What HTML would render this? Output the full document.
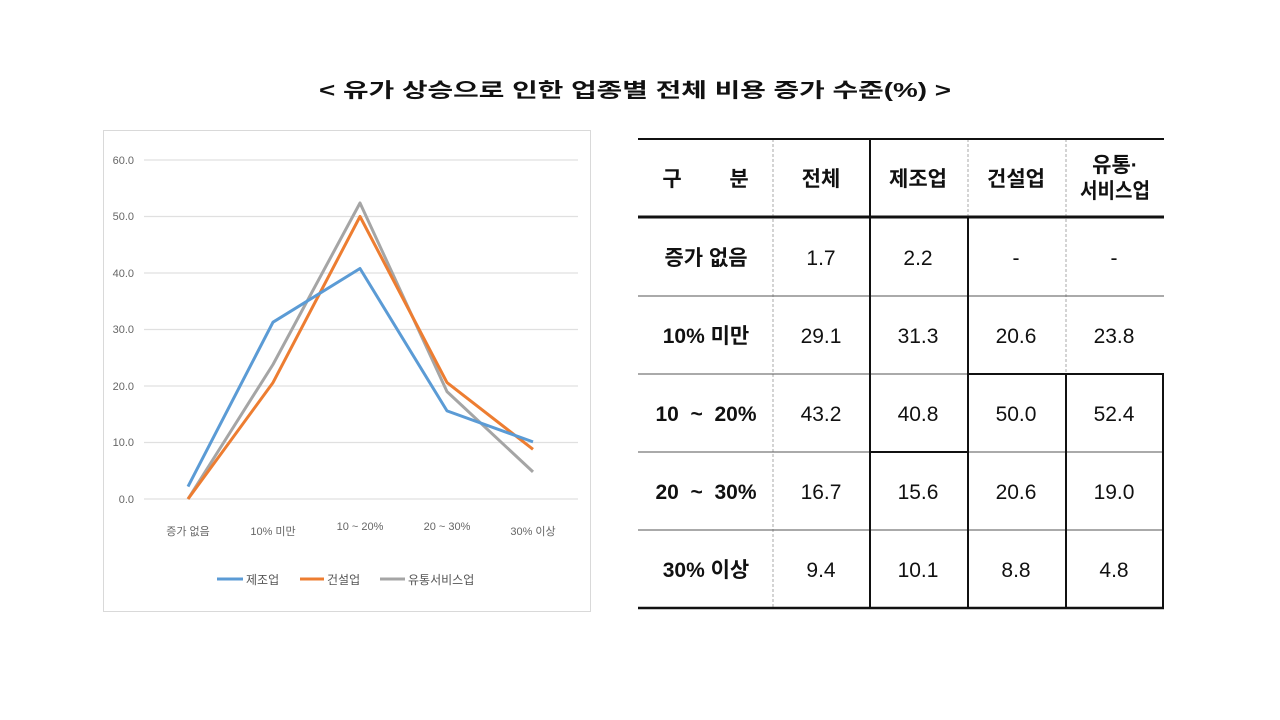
<!DOCTYPE html>
<html><head><meta charset="utf-8"><style>
html,body{margin:0;padding:0;background:#fff;width:1280px;height:720px;overflow:hidden}
svg{display:block}
text{font-family:"Liberation Sans","Noto Sans CJK KR",sans-serif}
</style></head><body>
<svg width="1280" height="720" viewBox="0 0 1280 720" xmlns="http://www.w3.org/2000/svg">
<text x="635" y="97" text-anchor="middle" font-size="20" font-weight="bold" fill="#111" textLength="632" lengthAdjust="spacingAndGlyphs">&lt; 유가 상승으로 인한 업종별 전체 비용 증가 수준(%) &gt;</text>
<rect x="103.5" y="130.5" width="487" height="481" fill="#fff" stroke="#d9d9d9"/>
<g stroke="#e0e0e0" stroke-width="1.2">
<line x1="144" y1="160" x2="578" y2="160"/><line x1="144" y1="216.5" x2="578" y2="216.5"/>
<line x1="144" y1="273" x2="578" y2="273"/><line x1="144" y1="329.5" x2="578" y2="329.5"/>
<line x1="144" y1="386" x2="578" y2="386"/><line x1="144" y1="442.5" x2="578" y2="442.5"/>
<line x1="144" y1="499" x2="578" y2="499"/></g>
<g font-size="11" fill="#666" text-anchor="end">
<text x="134" y="164">60.0</text><text x="134" y="220">50.0</text><text x="134" y="277">40.0</text>
<text x="134" y="333">30.0</text><text x="134" y="390">20.0</text><text x="134" y="446">10.0</text><text x="134" y="503">0.0</text></g>
<g font-size="11" fill="#666" text-anchor="middle">
<text x="188" y="535">증가 없음</text><text x="273" y="535">10% 미만</text><text x="360" y="530">10 ~ 20%</text>
<text x="447" y="530">20 ~ 30%</text><text x="533" y="535">30% 이상</text></g>
<g fill="none" stroke-width="3" stroke-linejoin="round">
<polyline stroke="#a5a5a5" points="188,499 273,364.5 360,203 447,391.6 533,471.9"/>
<polyline stroke="#ed7d31" points="188,499 273,382.6 360,216.5 447,382.6 533,449.3"/>
<polyline stroke="#5b9bd5" points="188,486.6 273,322.2 360,268.5 447,410.9 533,441.9"/>
</g>
<g font-size="12" fill="#555">
<line x1="217" y1="579" x2="243" y2="579" stroke="#5b9bd5" stroke-width="3"/><text x="246" y="584">제조업</text>
<line x1="300" y1="579" x2="324" y2="579" stroke="#ed7d31" stroke-width="3"/><text x="327" y="584">건설업</text>
<line x1="380" y1="579" x2="405" y2="579" stroke="#a5a5a5" stroke-width="3"/><text x="408" y="584">유통서비스업</text>
</g>
<g stroke="#aaa" stroke-width="1" stroke-dasharray="3,2">
<line x1="773" y1="139" x2="773" y2="608"/>
<line x1="968" y1="139" x2="968" y2="217"/>
<line x1="1066" y1="139" x2="1066" y2="374"/>
</g>
<g stroke="#555" stroke-width="1">
<line x1="638" y1="296" x2="1164" y2="296"/>
<line x1="638" y1="374" x2="967" y2="374"/>
<line x1="638" y1="452" x2="1164" y2="452"/>
<line x1="638" y1="530" x2="1164" y2="530"/>
</g>
<g stroke="#111" stroke-width="2">
<line x1="638" y1="139" x2="1164" y2="139"/>
<line x1="638" y1="217" x2="1164" y2="217" stroke-width="3"/>
<line x1="638" y1="608" x2="1164" y2="608" stroke-width="2.5"/>
<line x1="870" y1="139" x2="870" y2="608"/>
<line x1="968" y1="217" x2="968" y2="608"/>
<line x1="967" y1="374" x2="1164" y2="374"/>
<line x1="1066" y1="374" x2="1066" y2="608"/>
<line x1="1163" y1="374" x2="1163" y2="608"/>
<line x1="870" y1="452" x2="968" y2="452"/>
</g>
<g font-size="21" font-weight="bold" fill="#111" text-anchor="middle">
<text x="672" y="186">구</text><text x="739" y="186">분</text>
<text x="821" y="186">전체</text><text x="918" y="186">제조업</text><text x="1016" y="186">건설업</text>
<text x="1115" y="172">유통·</text><text x="1115" y="198" textLength="70" lengthAdjust="spacingAndGlyphs">서비스업</text>
<text x="706" y="265">증가 없음</text><text x="706" y="343">10% 미만</text>
<text x="706" y="421" xml:space="preserve">10  ~  20%</text><text x="706" y="499" xml:space="preserve">20  ~  30%</text><text x="706" y="577">30% 이상</text>
</g>
<g font-size="21" fill="#111" text-anchor="middle">
<text x="821" y="265">1.7</text><text x="918" y="265">2.2</text><text x="1016" y="265">-</text><text x="1114" y="265">-</text>
<text x="821" y="343">29.1</text><text x="918" y="343">31.3</text><text x="1016" y="343">20.6</text><text x="1114" y="343">23.8</text>
<text x="821" y="421">43.2</text><text x="918" y="421">40.8</text><text x="1016" y="421">50.0</text><text x="1114" y="421">52.4</text>
<text x="821" y="499">16.7</text><text x="918" y="499">15.6</text><text x="1016" y="499">20.6</text><text x="1114" y="499">19.0</text>
<text x="821" y="577">9.4</text><text x="918" y="577">10.1</text><text x="1016" y="577">8.8</text><text x="1114" y="577">4.8</text>
</g>
</svg>
</body></html>
